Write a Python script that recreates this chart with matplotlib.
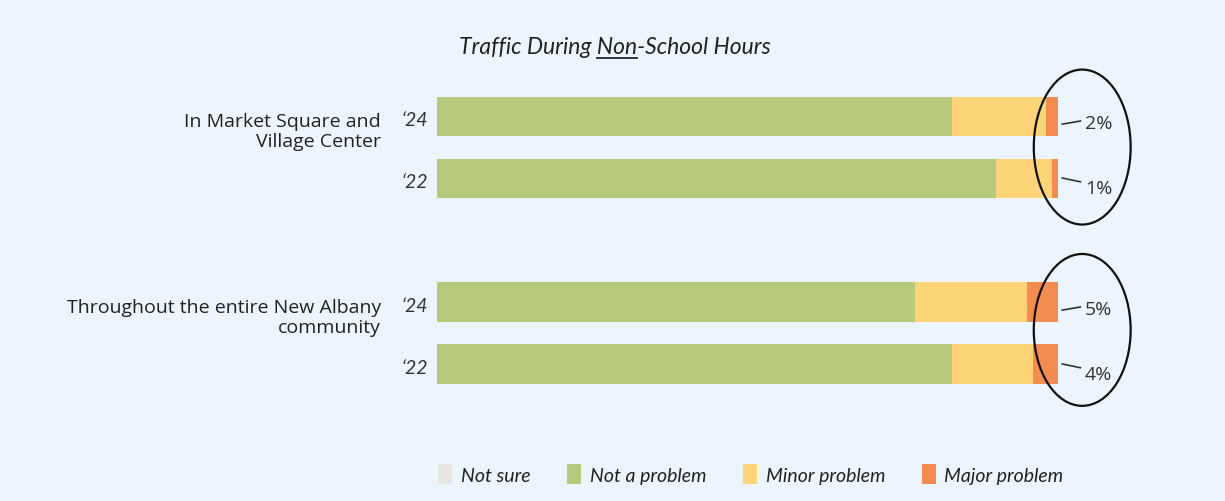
import matplotlib
matplotlib.use("Agg")
import matplotlib.pyplot as plt
from matplotlib.patches import Ellipse

# ---- data ----
groups = ["In Market Square and\nVillage Center", "Throughout the entire New Albany\ncommunity"]
years = ["\u201824", "\u201822", "\u201824", "\u201822"]
not_sure = [0, 0, 0, 0]
not_a_problem = [83, 90, 77, 83]
minor_problem = [15, 9, 18, 13]
major_problem = [2, 1, 5, 4]
major_labels = ["2%", "1%", "5%", "4%"]
series_names = ["Not sure", "Not a problem", "Minor problem", "Major problem"]
title = "Traffic During Non-School Hours"

# ---- style ----
BG = "#ecf5fb"
colors = ["#e6e6e2", "#b6c97c", "#fed479", "#f48b50"]
positions = [0, 1, 3, 4]
bar_h = 0.63
hand = "Lato"
ui = "Open Sans"

W, H = 1225, 502
fig = plt.figure(figsize=(W / 100, H / 100), dpi=100, facecolor=BG)
ax = fig.add_axes([437 / W, 0.234, 621 / W, 0.5717])
ax.set_facecolor("none")

left = [0] * 4
series = [not_sure, not_a_problem, minor_problem, major_problem]
handles = []
for name, vals, c in zip(series_names, series, colors):
    bc = ax.barh(positions, vals, left=left, height=bar_h, color=c, label=name, linewidth=0)
    handles.append(bc)
    left = [l + v for l, v in zip(left, vals)]

ax.set_xlim(0, 100)
ax.set_ylim(4 + bar_h / 2, -bar_h / 2)
for s in ax.spines.values():
    s.set_visible(False)
ax.set_xticks([])
ax.set_yticks([])

# year labels
for p, yl in zip(positions, years):
    ax.text(-1.4, p + 0.05, yl, ha="right", va="center", fontsize=14,
            family=hand, style="italic", color="#333333")

# group labels
for gi, g in enumerate(groups):
    ax.text(-9.0, positions[gi * 2] + 0.24, g, ha="right", va="center", fontsize=14,
            family=ui, color="#222222", linespacing=1.15)

# leader lines + percent labels
offsets = [-0.05, 0.06, -0.05, 0.06]
for p, t, off in zip(positions, major_labels, offsets):
    tot = 100
    y0 = p + (0.13 if off < 0 else 0.0)
    y1 = y0 + off
    ax.plot([tot + 0.7, tot + 3.6], [y0, y1], color="#333333", lw=1.2, clip_on=False)
    ax.text(tot + 4.3, y1 + (0.03 if off < 0 else 0.1), t, ha="left", va="center", fontsize=14,
            family=ui, color="#333333")

# ellipses
for cy, hgt in [(0.5, 2.5), (3.45, 2.45)]:
    e = Ellipse((103.9, cy), 15.6, hgt, fill=False, edgecolor="#111111", lw=1.6, clip_on=False)
    ax.add_patch(e)

# title with underlined "Non"
TS = 16.5
tx = fig.text(615 / W, 1 - 47 / H, title, ha="center", va="center", fontsize=TS,
              family=hand, style="italic", color="#222222")
fig.canvas.draw()
r = fig.canvas.get_renderer()
bb = tx.get_window_extent(r)
def wpart(s):
    t = fig.text(0, 0, s, fontsize=TS, family=hand, style="italic")
    w = t.get_window_extent(r).width
    t.remove()
    return w
idx = title.index("Non")
x_start = bb.x0 + wpart(title[:idx] + ".") - wpart(".")
x_end = bb.x0 + wpart(title[:idx + 3] + ".") - wpart(".")
yline = bb.y0 - 1
fig.add_artist(plt.Line2D([x_start / W, x_end / W], [yline / H, yline / H],
                          transform=fig.transFigure, color="#222222", lw=1.3))

# legend
leg = fig.legend(handles=handles, labels=series_names, loc="center", ncol=4,
                 bbox_to_anchor=(751 / W, 1 - 475 / H), frameon=False,
                 handlelength=0.7, handleheight=1.2, handletextpad=0.45, columnspacing=1.9,
                 prop={"family": hand, "style": "italic", "size": 14})
for t in leg.get_texts():
    t.set_color("#222222")

fig.savefig("out.png", dpi=100, facecolor=BG)
